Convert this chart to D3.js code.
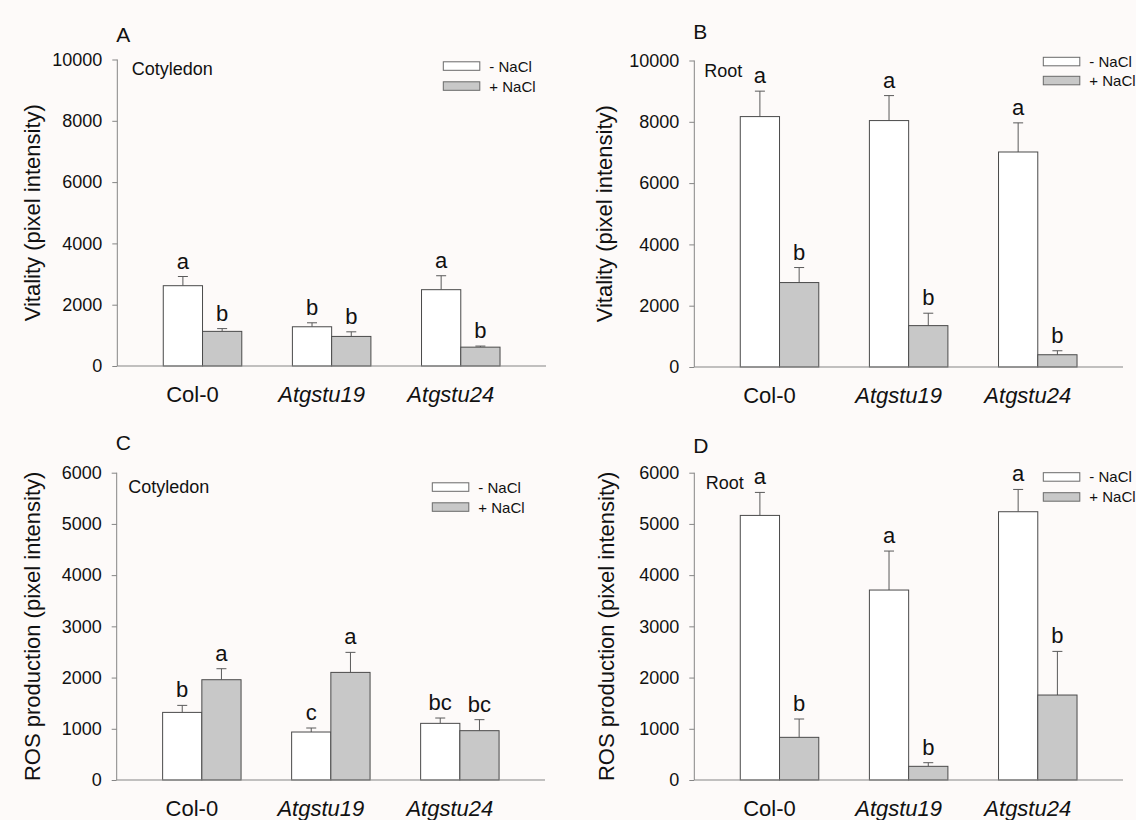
<!DOCTYPE html>
<html>
<head>
<meta charset="utf-8">
<script src="https://cdn.jsdelivr.net/npm/d3@7"></script>
<style>
  body { margin: 0; background: #fdfaf9; }
  svg { display: block; font-family: "Liberation Sans", Arial, sans-serif; }
</style>
</head>
<body>
<div id="vis"></div>
<script>
const WIDTH = 1136;
const HEIGHT = 820;

// genotypes on the x axis
const categories = ["Col-0", "Atgstu19", "Atgstu24"];
const seriesNames = ["- NaCl", "+ NaCl"];

// A: vitality, cotyledon
const vitCotMinus = [2620, 1280, 2490];
const vitCotMinusErr = [300, 130, 455];
const vitCotPlus = [1130, 965, 615];
const vitCotPlusErr = [90, 150, 35];
const vitCotLetters = [["a", "b"], ["b", "b"], ["a", "b"]];

// B: vitality, root
const vitRootMinus = [8170, 8040, 7015];
const vitRootMinusErr = [830, 815, 950];
const vitRootPlus = [2755, 1350, 400];
const vitRootPlusErr = [490, 405, 130];
const vitRootLetters = [["a", "b"], ["a", "b"], ["a", "b"]];

// C: ROS, cotyledon
const rosCotMinus = [1320, 937, 1106];
const rosCotMinusErr = [137, 78, 104];
const rosCotPlus = [1958, 2101, 963];
const rosCotPlusErr = [215, 391, 215];
const rosCotLetters = [["b", "a"], ["c", "a"], ["bc", "bc"]];

// D: ROS, root
const rosRootMinus = [5166, 3709, 5238];
const rosRootMinusErr = [449, 761, 435];
const rosRootPlus = [833, 267, 1659];
const rosRootPlusErr = [358, 71, 852];
const rosRootLetters = [["a", "b"], ["a", "b"], ["a", "b"]];

const vitTicks = [0, 2000, 4000, 6000, 8000, 10000];
const rosTicks = [0, 1000, 2000, 3000, 4000, 5000, 6000];

const FILLS = ["#ffffff", "#c8c8c8"];
const AXIS_COLOR = "#858585";
const BAR_STROKE = "#4a4a4a";

const svg = d3.select("#vis")
  .append("svg")
    .attr("width", WIDTH)
    .attr("height", HEIGHT);

function drawPanel(p) {
  const X_SCALE = d3.scalePoint()
    .domain(categories)
    .range([p.left, p.right])
    .padding(0.66);
  const Y_SCALE = d3.scaleLinear()
    .domain([0, p.max])
    .range([p.bottom, p.top]);

  const step = X_SCALE.step();
  const barW = step * 0.304;

  const g = svg.append("g");

  // panel letter
  g.append("text")
    .attr("x", p.left - 1)
    .attr("y", p.letterY)
    .attr("font-size", 21)
    .attr("fill", "#111")
    .text(p.letter);

  // y axis
  const yAxis = g.append("g")
    .attr("transform", "translate(" + p.left + ",0)")
    .call(d3.axisLeft(Y_SCALE).tickValues(p.ticks).tickSize(5).tickPadding(10).tickFormat(d3.format("d")));
  yAxis.select(".domain").attr("stroke", AXIS_COLOR).attr("d", "M0," + p.bottom + "V" + p.top);
  yAxis.selectAll(".tick line").attr("stroke", AXIS_COLOR);
  yAxis.selectAll(".tick text")
    .attr("font-size", 18)
    .attr("font-family", "Liberation Sans, Arial, sans-serif")
    .attr("fill", "#111");

  // y title
  g.append("text")
    .attr("transform", "translate(" + p.titleX + "," + ((p.top + p.bottom) / 2) + ") rotate(-90)")
    .attr("text-anchor", "middle")
    .attr("font-size", 22)
    .attr("fill", "#111")
    .text(p.title);

  // bars
  const rows = [];
  categories.forEach((c, i) => {
    [p.minus, p.plus].forEach((vals, s) => {
      rows.push({
        cat: c, s: s,
        v: vals[i],
        e: (s === 0 ? p.minusErr : p.plusErr)[i],
        letter: p.letters[i][s]
      });
    });
  });
  const bx = (d) => X_SCALE(d.cat) + (d.s === 0 ? -barW : 0);

  // error bars (upper only)
  g.selectAll(".err")
    .data(rows)
    .enter()
    .append("path")
      .attr("d", (d) => {
        const cx = bx(d) + barW / 2;
        const y0 = Y_SCALE(d.v), y1 = Y_SCALE(d.v + d.e);
        return "M" + cx + "," + y0 + "V" + y1 + "M" + (cx - 5) + "," + y1 + "H" + (cx + 5);
      })
      .attr("stroke", "#5a5a5a")
      .attr("fill", "none");

  g.selectAll(".bar")
    .data(rows)
    .enter()
    .append("rect")
      .attr("x", bx)
      .attr("y", (d) => Y_SCALE(d.v))
      .attr("width", barW)
      .attr("height", (d) => p.bottom - Y_SCALE(d.v))
      .attr("fill", (d) => FILLS[d.s])
      .attr("stroke", BAR_STROKE)
      .attr("stroke-width", 1);

  // significance letters
  g.selectAll(".sig")
    .data(rows)
    .enter()
    .append("text")
      .attr("x", (d) => bx(d) + barW / 2)
      .attr("y", (d) => Y_SCALE(d.v + d.e) - 8)
      .attr("text-anchor", "middle")
      .attr("font-size", 22)
      .attr("fill", "#111")
      .text((d) => d.letter);

  // x axis line
  g.append("line")
    .attr("x1", p.left).attr("x2", p.right)
    .attr("y1", p.bottom).attr("y2", p.bottom)
    .attr("stroke", AXIS_COLOR);

  // category labels
  g.selectAll(".cat")
    .data(categories)
    .enter()
    .append("text")
      .attr("x", (d) => X_SCALE(d) - 10)
      .attr("y", p.bottom + 36)
      .attr("text-anchor", "middle")
      .attr("font-size", 22)
      .attr("font-style", (d) => d === "Col-0" ? "normal" : "italic")
      .attr("fill", "#111")
      .text((d) => d);

  // tissue label
  g.append("text")
    .attr("x", p.left + p.tissueDx)
    .attr("y", p.tissueY)
    .attr("font-size", 18)
    .attr("fill", "#111")
    .text(p.tissue);

  // legend
  const leg = g.selectAll(".leg")
    .data(seriesNames)
    .enter()
    .append("g")
      .attr("transform", (d, i) => "translate(" + p.legX + "," + (p.legY + i * p.legStep) + ")");
  leg.append("rect")
    .attr("width", 36.5)
    .attr("height", 8.5)
    .attr("fill", (d, i) => FILLS[i])
    .attr("stroke", "#6a6a6a");
  leg.append("text")
    .attr("x", 46)
    .attr("y", 4.5)
    .attr("dy", "0.35em")
    .attr("font-size", 15)
    .attr("fill", "#111")
    .text((d) => d);
}

drawPanel({
  letter: "A", letterY: 42, left: 117.3, right: 546, top: 59.5, bottom: 366,
  max: 10000, ticks: vitTicks, title: "Vitality (pixel intensity)", titleX: 40,
  minus: vitCotMinus, minusErr: vitCotMinusErr, plus: vitCotPlus, plusErr: vitCotPlusErr,
  letters: vitCotLetters, tissue: "Cotyledon", tissueDx: 14.5, tissueY: 75,
  legX: 443.3, legY: 61.8, legStep: 20
});

drawPanel({
  letter: "B", letterY: 38.5, left: 694.3, right: 1123, top: 60.5, bottom: 367,
  max: 10000, ticks: vitTicks, title: "Vitality (pixel intensity)", titleX: 612,
  minus: vitRootMinus, minusErr: vitRootMinusErr, plus: vitRootPlus, plusErr: vitRootPlusErr,
  letters: vitRootLetters, tissue: "Root", tissueDx: 10, tissueY: 77,
  legX: 1043.3, legY: 57.3, legStep: 19
});

drawPanel({
  letter: "C", letterY: 450, left: 116.7, right: 545, top: 472.7, bottom: 780,
  max: 6000, ticks: rosTicks, title: "ROS production (pixel intensity)", titleX: 40,
  minus: rosCotMinus, minusErr: rosCotMinusErr, plus: rosCotPlus, plusErr: rosCotPlusErr,
  letters: rosCotLetters, tissue: "Cotyledon", tissueDx: 11.5, tissueY: 493,
  legX: 432.3, legY: 482.8, legStep: 20
});

drawPanel({
  letter: "D", letterY: 453, left: 694.3, right: 1123, top: 472.7, bottom: 780,
  max: 6000, ticks: rosTicks, title: "ROS production (pixel intensity)", titleX: 614,
  minus: rosRootMinus, minusErr: rosRootMinusErr, plus: rosRootPlus, plusErr: rosRootPlusErr,
  letters: rosRootLetters, tissue: "Root", tissueDx: 11.5, tissueY: 489,
  legX: 1043.3, legY: 472.7, legStep: 20
});
</script>
</body>
</html>
